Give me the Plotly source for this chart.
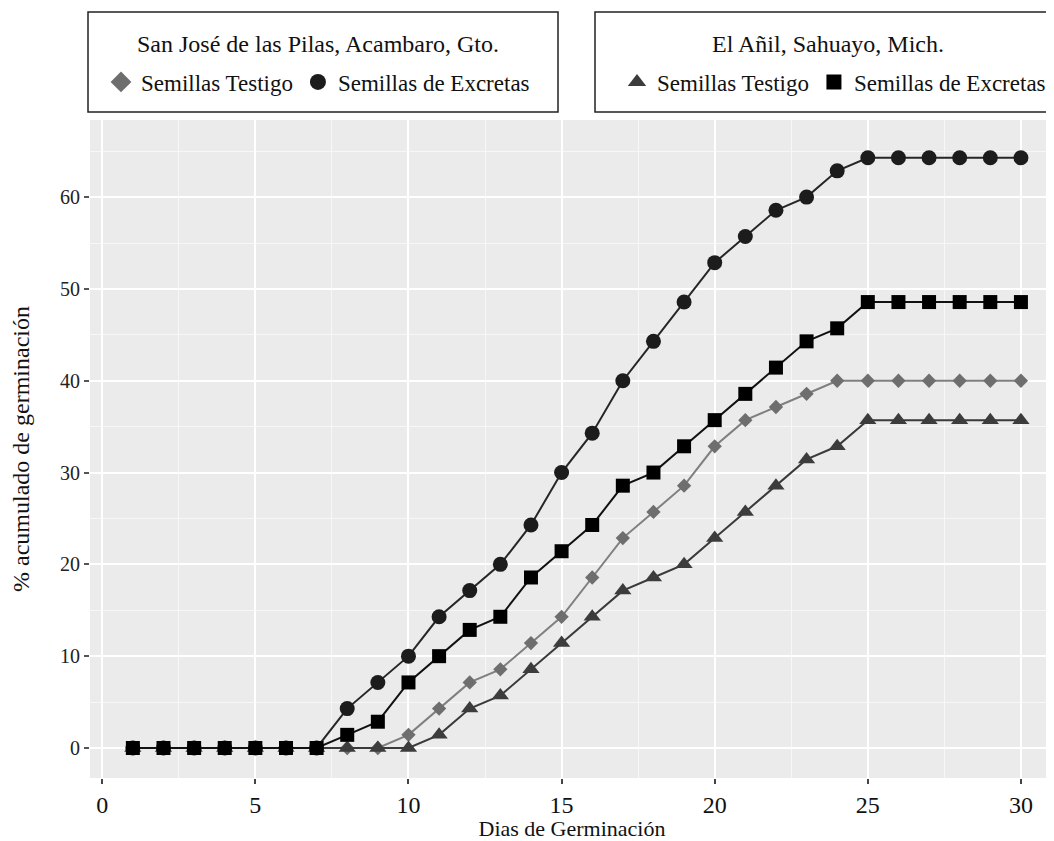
import plotly.graph_objects as go

dias = list(range(1, 31))

sj_testigo = [0, 0, 0, 0, 0, 0, 0, 0, 0, 1.43, 4.29, 7.14, 8.57, 11.43, 14.29, 18.57, 22.86, 25.71,
              28.57, 32.86, 35.71, 37.14, 38.57, 40, 40, 40, 40, 40, 40, 40]
sj_excretas = [0, 0, 0, 0, 0, 0, 0, 4.29, 7.14, 10, 14.29, 17.14, 20, 24.29, 30, 34.29, 40, 44.29,
               48.57, 52.86, 55.71, 58.57, 60, 62.86, 64.29, 64.29, 64.29, 64.29, 64.29, 64.29]
an_testigo = [0, 0, 0, 0, 0, 0, 0, 0, 0, 0, 1.43, 4.29, 5.71, 8.57, 11.43, 14.29, 17.14, 18.57,
              20, 22.86, 25.71, 28.57, 31.43, 32.86, 35.71, 35.71, 35.71, 35.71, 35.71, 35.71]
an_excretas = [0, 0, 0, 0, 0, 0, 0, 1.43, 2.86, 7.14, 10, 12.86, 14.29, 18.57, 21.43, 24.29, 28.57, 30,
               32.86, 35.71, 38.57, 41.43, 44.29, 45.71, 48.57, 48.57, 48.57, 48.57, 48.57, 48.57]

legend1_title = "San José de las Pilas, Acambaro, Gto."
legend2_title = "El Añil, Sahuayo, Mich."
series_name_t = "Semillas Testigo"
series_name_e = "Semillas de Excretas"
x_title = "Dias de Germinación"
y_title = "% acumulado de germinación"

FONT = "Liberation Serif, Times New Roman, serif"

series = [
    # y, name, legend, symbol, marker color, line color, marker size, legend marker size
    (sj_testigo, series_name_t, "legend", "diamond", "#6e6e6e", "#7f7f7f", 11, 16),
    (an_testigo, series_name_t, "legend2", "triangle-up", "#3c3c3c", "#3a3a3a", 15, 16),
    (sj_excretas, series_name_e, "legend", "circle", "#1c1c1c", "#262626", 15, 16),
    (an_excretas, series_name_e, "legend2", "square", "#000000", "#111111", 14, 15),
]
legend_rank = {"diamond": 1, "circle": 2, "triangle-up": 1, "square": 2}

fig = go.Figure()
for y, name, leg, sym, mc, lc, ms, lms in series:
    fig.add_trace(go.Scatter(x=dias, y=y, mode="lines+markers", line=dict(color=lc, width=2),
                             marker=dict(symbol=sym, color=mc, size=ms, line=dict(width=0)),
                             showlegend=False, hoverinfo="skip"))
    # legend-only entry (symbol without line, as in the reference key)
    fig.add_trace(go.Scatter(x=[None], y=[None], mode="markers", name=name, legend=leg,
                             legendrank=legend_rank[sym], showlegend=True,
                             marker=dict(symbol=sym, color=mc, size=lms, line=dict(width=0))))

# page body has an 8px margin: the figure is 8px smaller and positions are in page pixels
OFF = 8
FIG_W, FIG_H = 1054 - OFF, 841 - OFF
PL, PT, PR, PB = 90, 120, 1054, 778          # plot area in page pixels
H = PB - PT
W = PR - PL

def px_x(p):
    return (p - PL) / W

def px_y(p):
    return 1 + (PT - p) / H

for x0, x1 in [(88, 558), (595, 1052)]:
    fig.add_shape(type="rect", xref="paper", yref="paper",
                  x0=px_x(x0), x1=px_x(x1), y0=px_y(112), y1=px_y(12),
                  line=dict(color="#222222", width=1.5), fillcolor="rgba(0,0,0,0)")

for txt, cx in [(legend1_title, 318), (legend2_title, 828)]:
    fig.add_annotation(text=txt, xref="paper", yref="paper", x=px_x(cx), y=px_y(44),
                       xanchor="center", yanchor="middle", showarrow=False,
                       font=dict(family=FONT, size=24, color="#111"))

leg_common = dict(orientation="h", font=dict(family=FONT, size=23, color="#111"),
                  bgcolor="rgba(0,0,0,0)", borderwidth=0, itemsizing="trace",
                  yanchor="middle", xanchor="center", traceorder="normal",
                  itemclick=False, itemdoubleclick=False)

fig.update_layout(
    width=FIG_W, height=FIG_H,
    margin=dict(l=PL - OFF, r=0, t=PT - OFF, b=FIG_H - (PB - OFF)),
    paper_bgcolor="white",
    plot_bgcolor="#EBEBEB",
    font=dict(family=FONT, size=20, color="#111"),
    showlegend=True,
    legend=dict(**leg_common, x=px_x(318), y=px_y(82)),
    legend2=dict(**leg_common, x=px_x(834), y=px_y(82)),
    xaxis=dict(range=[-0.4, 31.08], tickvals=[0, 5, 10, 15, 20, 25, 30],
               showgrid=True, gridcolor="white", gridwidth=2, zeroline=False,
               minor=dict(tickvals=[2.5, 7.5, 12.5, 17.5, 22.5, 27.5], showgrid=True,
                          gridcolor="#F7F7F7", gridwidth=1, ticks=""),
               ticks="outside", ticklen=5, tickwidth=2, tickcolor="#444",
               tickfont=dict(family=FONT, size=24, color="#111"),
               title=dict(text=x_title, font=dict(family=FONT, size=22, color="#111"),
                          standoff=2),
               showline=False),
    yaxis=dict(range=[-3.27, 68.4], tickvals=[0, 10, 20, 30, 40, 50, 60],
               showgrid=True, gridcolor="white", gridwidth=2, zeroline=False,
               minor=dict(tickvals=[5, 15, 25, 35, 45, 55, 65], showgrid=True,
                          gridcolor="#F7F7F7", gridwidth=1, ticks=""),
               ticks="outside", ticklen=5, tickwidth=1.5, tickcolor="#555",
               tickfont=dict(family=FONT, size=20, color="#222"),
               title=dict(text=y_title, font=dict(family=FONT, size=24, color="#111"),
                          standoff=24),
               showline=False),
)

fig.write_html("out.html")
